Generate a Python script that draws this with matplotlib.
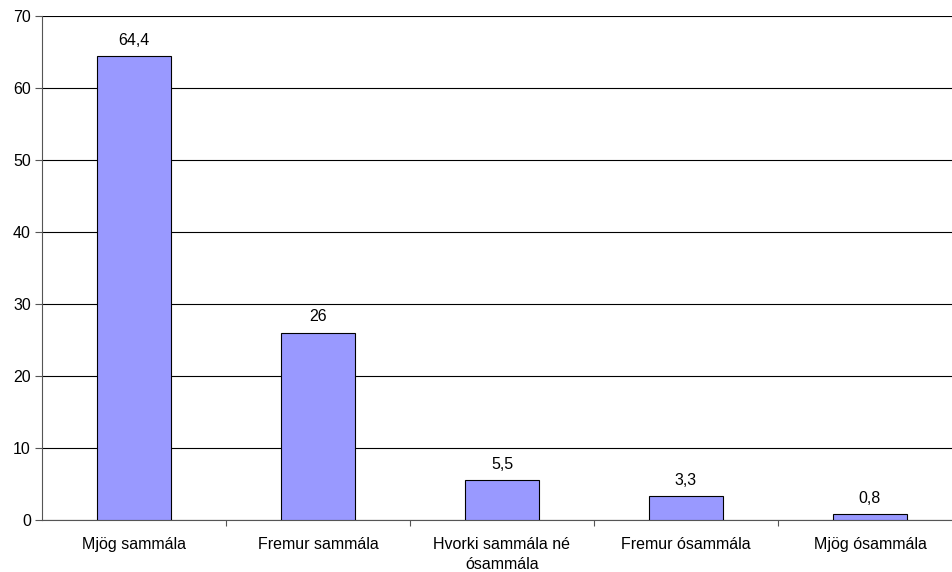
import matplotlib
matplotlib.use("Agg")
import matplotlib.pyplot as plt
import numpy as np

categories = ["Mjög sammála", "Fremur sammála", "Hvorki sammála né\nósammála",
              "Fremur ósammála", "Mjög ósammála"]
values = [64.4, 26, 5.5, 3.3, 0.8]
value_labels = ["64,4", "26", "5,5", "3,3", "0,8"]

plt.rcParams["font.family"] = ["Liberation Sans", "DejaVu Sans"]
plt.rcParams["font.size"] = 11.5

fig = plt.figure(figsize=(9.53, 5.72), dpi=100)
ax = fig.add_axes([42 / 953, 52 / 572, 920 / 953, 504 / 572])

x = np.arange(len(categories))
ax.bar(x, values, width=0.4, color="#9999ff", edgecolor="black", linewidth=0.8, zorder=3)
for xi, v, lab in zip(x, values, value_labels):
    ax.text(xi, v + 1.2, lab, ha="center", va="bottom")

ax.set_xlim(-0.5, len(categories) - 0.5)
ax.set_ylim(0, 70)
ax.set_yticks(range(0, 71, 10))
ax.yaxis.grid(True, color="black", linewidth=0.8, zorder=0)

# category separators as major ticks, labels on minor ticks
ax.set_xticks(np.arange(0.5, len(categories) - 0.5, 1))
ax.set_xticklabels([])
ax.set_xticks(x, minor=True)
ax.set_xticklabels(categories, minor=True, linespacing=1.45)
ax.tick_params(axis="x", which="major", length=4, direction="out", color="#555555")
ax.tick_params(axis="x", which="minor", length=0, pad=12)
ax.tick_params(axis="y", length=5, color="#555555", pad=3)

for s in ["top", "right"]:
    ax.spines[s].set_visible(False)
ax.spines["left"].set_color("#555555")
ax.spines["bottom"].set_color("#555555")

fig.savefig("out.png", dpi=100)
